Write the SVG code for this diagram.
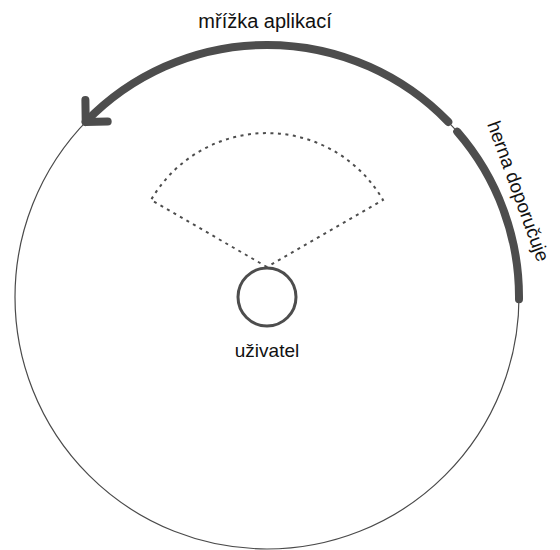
<svg xmlns="http://www.w3.org/2000/svg" width="560" height="550" viewBox="0 0 560 550">
<style>
.ring{fill:none;stroke:#4a4a4a;stroke-width:1.2}
.thick{fill:none;stroke:#4d4d4d;stroke-width:8;stroke-linecap:round;stroke-linejoin:round}
.fov{fill:none;stroke:#4d4d4d;stroke-width:2;stroke-dasharray:3 4.5}
.user{fill:#fff;stroke:#4d4d4d;stroke-width:3}
.lbl{font-family:"Liberation Sans",Arial,sans-serif;font-size:19px;fill:#111}
</style>
<rect width="560" height="550" fill="#fff"/>
<g id="ring"><circle class="ring" cx="267" cy="297" r="252"/></g>
<g id="fov"><path class="fov" d="M267 267 L151 200 A134 134 0 0 1 383 200 Z"/></g>
<g id="uzivatel">
<circle class="user" cx="267" cy="297" r="29"/>
<text class="lbl" x="267" y="357" text-anchor="middle">uživatel</text>
</g>
<g id="connectors">
<path class="thick" d="M448.3 121.9 A252 252 0 0 0 85.7 121.9"/>
<path class="thick" d="M85.4 99.9 L85.7 121.9 L107.7 121.6"/>
<path class="thick" d="M457.2 131.7 A252 252 0 0 1 519 299.2"/>
</g>
<g id="labels">
<text class="lbl" x="265" y="28" text-anchor="middle" style="font-size:20px">mřížka aplikací</text>
<text class="lbl" transform="translate(487,124) rotate(70)">herna doporučuje</text>
</g>
</svg>
